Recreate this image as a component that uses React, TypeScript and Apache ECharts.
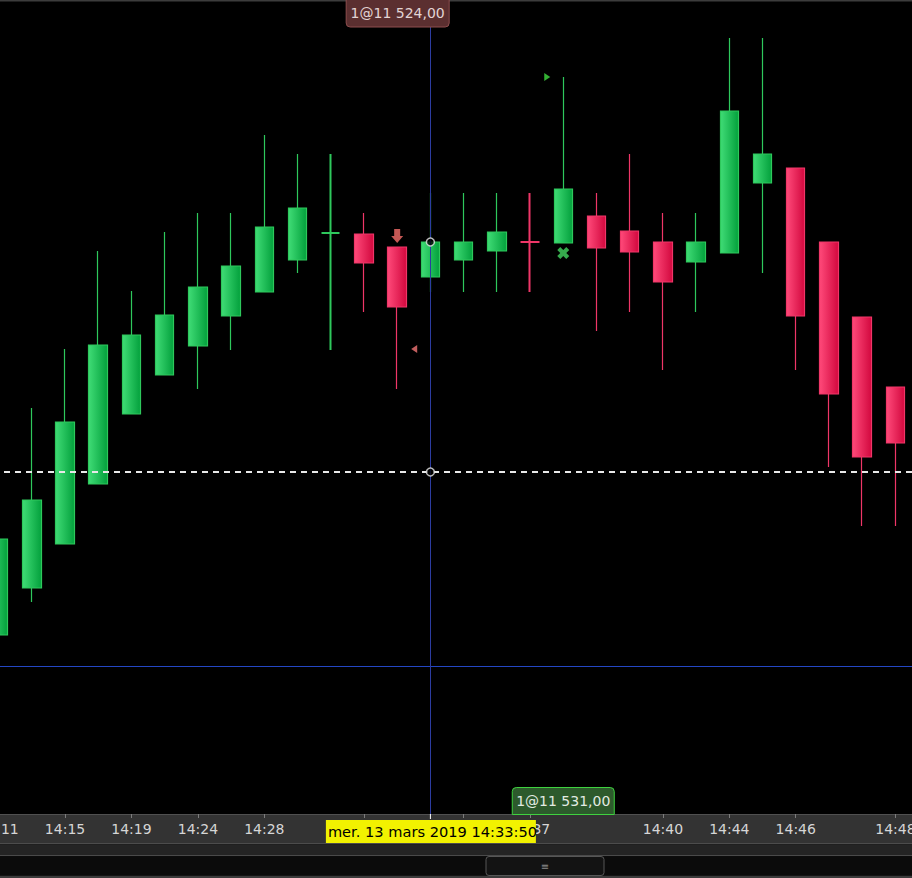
import React, { useEffect, useRef } from "react";
import * as echarts from "echarts";

// Bar times (category axis)
const times = [
  "14:11", "14:13", "14:15", "14:17", "14:19", "14:22", "14:24", "14:26", "14:28", "14:29",
  "14:30", "14:31", "14:32", "14:33", "14:35", "14:36", "14:37", "14:38", "14:38", "14:39",
  "14:40", "14:42", "14:44", "14:45", "14:46", "14:47", "14:47", "14:48",
];
// indices that carry a tick, and those whose label is drawn
const tickIdx = [0, 2, 4, 6, 8, 11, 14, 16, 20, 22, 24, 27];
const labelIdx = [0, 2, 4, 6, 8, 16, 20, 22, 24, 27];

const opens = [
  11483.25, 11495, 11506, 11521, 11538.5, 11548.25, 11555.5, 11563, 11569, 11577,
  11583.75, 11583.5, 11580.25, 11572.75, 11577, 11579.25, 11581.5, 11581.25, 11588, 11584.25,
  11581.5, 11576.5, 11578.75, 11596.25, 11600, 11581.5, 11562.75, 11545.25,
];
const closes = [
  11507.25, 11517, 11536.5, 11555.75, 11558.25, 11563.25, 11570.25, 11575.5, 11585.25, 11590,
  11583.75, 11576.25, 11565.25, 11581.5, 11581.5, 11584, 11581.5, 11594.75, 11580, 11579,
  11571.5, 11581.5, 11614.25, 11603.5, 11563, 11543.5, 11527.75, 11531.25,
];
const lows = [
  11483.25, 11491.5, 11506, 11521, 11538.5, 11548.25, 11544.75, 11554.5, 11569, 11573.75,
  11554.5, 11564, 11544.75, 11569, 11569, 11569, 11569, 11581.25, 11559.25, 11564,
  11549.5, 11564, 11578.75, 11573.75, 11549.5, 11525.25, 11510.5, 11510.5,
];
const highs = [
  11525.5, 11540, 11554.75, 11579.25, 11569.25, 11584, 11588.75, 11588.75, 11608.25, 11603.5,
  11603.5, 11588.75, 11580.25, 11593.75, 11593.75, 11593.75, 11593.75, 11622.75, 11593.75, 11603.5,
  11588.75, 11588.75, 11632.5, 11632.5, 11600, 11581.5, 11562.75, 11545.25,
];
// doji bars and their colour (1 = up/green, -1 = down/red)
const dojiIdx = [10, 16];
const dojiSign = [1, -1];

// levels
const dashedLevel = 11524;
const blueLevel = 11475.5;
const crossIdx = 13;
const crossPrice = 11581.5;

// order markers: [index, price]
const sellArrow = [12, 11583];
const redTriangle = [12, 11554.75];
const greenTriangle = [17, 11622.75];
const greenCross = [17, 11578.75];

const topLabelIdx = 12;
const topLabelText = "1@11 524,00";
const bottomLabelIdx = 17;
const bottomLabelText = "1@11 531,00";
const dateText = "mer. 13 mars 2019 14:33:50";

const yMin = 11438.5;
const yMax = 11642;

const FONT = "DejaVu Sans";

export default function App() {
  const ref = useRef<HTMLDivElement>(null);
  useEffect(() => {
    const chart = echarts.init(ref.current!, null, { renderer: "svg" });
    const greenFill = new echarts.graphic.LinearGradient(0, 0, 1, 0, [
      { offset: 0, color: "#40dc76" },
      { offset: 1, color: "#03a03c" },
    ]);
    const redFill = new echarts.graphic.LinearGradient(0, 0, 1, 0, [
      { offset: 0, color: "#ff4a7a" },
      { offset: 1, color: "#d2083e" },
    ]);
    const greenBorder = "#2ec85c";
    const redBorder = "#ef3668";

    const data = opens.map((o, i) => {
      const di = dojiIdx.indexOf(i);
      const v = [o, closes[i], lows[i], highs[i]];
      if (di < 0) return v;
      const up = dojiSign[di] > 0;
      const f = up ? greenFill : redFill;
      const b = up ? greenBorder : redBorder;
      return {
        value: v,
        itemStyle: { color: f, color0: f, borderColor: b, borderColor0: b, borderColorDoji: b, borderWidth: 2 },
      };
    });

    chart.setOption({
      animation: false,
      backgroundColor: "#000",
      textStyle: { fontFamily: FONT },
      grid: { left: -18, right: 0, top: 0, bottom: 64, containLabel: false, outerBoundsMode: "none" },
      xAxis: {
        type: "category",
        data: times,
        boundaryGap: true,
        z: 5,
        axisLine: { show: true, lineStyle: { color: "#505050", width: 1 } },
        axisTick: {
          show: true,
          alignWithLabel: true,
          interval: (i: number) => tickIdx.indexOf(i) >= 0,
          length: 4,
          lineStyle: { color: "#7c7c7c" },
        },
        axisLabel: {
          interval: (i: number) => labelIdx.indexOf(i) >= 0,
          color: "#d6d6d6",
          fontSize: 14,
          fontFamily: FONT,
          margin: 8,
        },
        splitLine: { show: false },
      },
      yAxis: {
        type: "value",
        min: yMin,
        max: yMax,
        show: false,
        splitLine: { show: false },
      },
      series: [
        {
          type: "candlestick",
          data,
          barWidth: 19,
          z: 2,
          itemStyle: {
            color: greenFill,
            color0: redFill,
            borderColor: greenBorder,
            borderColor0: redBorder,
            borderWidth: 1.2,
          },
        },
        {
          type: "scatter",
          z: 4,
          silent: true,
          data: [
            {
              value: sellArrow,
              symbol: "path://M3 0 H9 V7 H12 L6 14 L0 7 H3 Z",
              symbolSize: [12, 14],
              itemStyle: { color: "#f66e6a" },
            },
            {
              value: redTriangle,
              symbol: "path://M6 0 L6 8 L0 4 Z",
              symbolSize: [6, 8],
              symbolOffset: [17, 0],
              itemStyle: { color: "#f27676" },
            },
            {
              value: greenTriangle,
              symbol: "path://M0 0 L6 4 L0 8 Z",
              symbolSize: [6, 8],
              symbolOffset: [-16, 0],
              itemStyle: { color: "#40dc40" },
            },
            {
              value: greenCross,
              symbol:
                "path://M3 0 L6 3 L9 0 L12 3 L9 6 L12 9 L9 12 L6 9 L3 12 L0 9 L3 6 L0 3 Z",
              symbolSize: 12,
              itemStyle: { color: "#44d460" },
            },
          ],
          markLine: {
            silent: true,
            symbol: ["none", "none"],
            label: { show: false },
            data: [
              { yAxis: blueLevel, lineStyle: { color: "#2447c4", width: 1, type: "solid" } },
              { xAxis: crossIdx, lineStyle: { color: "#2c3ca0", width: 1, type: "solid" } },
              { yAxis: dashedLevel, lineStyle: { color: "#e8e8e8", width: 2, type: [6, 5] } },
            ],
          },
        },
        {
          type: "scatter",
          z: 6,
          silent: true,
          symbol: "circle",
          symbolSize: 8,
          itemStyle: { color: "#000", borderColor: "#e6e6e6", borderWidth: 1.5 },
          data: [
            [crossIdx, crossPrice],
            [crossIdx, dashedLevel],
          ],
        },
      ],
    });

    const px = (i: number, v: number) => chart.convertToPixel({ gridIndex: 0 }, [i, v]) as number[];
    const xTop = px(topLabelIdx, dashedLevel)[0];
    const xBot = px(bottomLabelIdx, dashedLevel)[0];
    const xCross = px(crossIdx, dashedLevel)[0];
    const axisY = px(crossIdx, yMin)[1];

    chart.setOption({
      graphic: {
        elements: [
          { type: "rect", z: 1, shape: { x: 0, y: 0, width: 912, height: 1.5 }, style: { fill: "#3c3c3c" } },
          { type: "rect", z: 1, shape: { x: 0, y: axisY, width: 912, height: 29.5 }, style: { fill: "#333333" } },
          { type: "rect", z: 1, shape: { x: 0, y: axisY + 29, width: 912, height: 1.2 }, style: { fill: "#4c4c4c" } },
          { type: "rect", z: 1, shape: { x: 0, y: axisY + 30.2, width: 912, height: 10.8 }, style: { fill: "#242424" } },
          { type: "rect", z: 1, shape: { x: 0, y: axisY + 41, width: 912, height: 1.2 }, style: { fill: "#4a4a4a" } },
          { type: "rect", z: 1, shape: { x: 0, y: axisY + 42.2, width: 912, height: 19.6 }, style: { fill: "#0b0b0b" } },
          { type: "rect", z: 1, shape: { x: 0, y: axisY + 61.8, width: 912, height: 2.2 }, style: { fill: "#3c3c3c" } },
          {
            type: "rect",
            z: 8,
            shape: { x: 486, y: axisY + 42.5, width: 118, height: 19, r: 3 },
            style: { fill: "#131313", stroke: "#575757", lineWidth: 1 },
          },
          {
            type: "text",
            z: 9,
            x: 545,
            y: axisY + 52,
            style: { text: "≡", fill: "#8a8a8a", fontSize: 10, fontFamily: FONT, align: "center", verticalAlign: "middle" },
          },
          // crosshair tick on the time axis
          {
            type: "line",
            z: 9,
            shape: { x1: xCross, y1: axisY, x2: xCross, y2: axisY + 5 },
            style: { stroke: "#ffffff", lineWidth: 1 },
          },
          // date box
          {
            type: "rect",
            z: 10,
            shape: { x: xCross - 104.5, y: axisY + 6, width: 210, height: 23 },
            style: { fill: "#f2f200" },
          },
          {
            type: "text",
            z: 11,
            x: xCross - 102.5,
            y: axisY + 17.5,
            style: { text: dateText, fill: "#000", fontSize: 14.6, fontFamily: FONT, verticalAlign: "middle" },
          },
          // top order label
          {
            type: "rect",
            z: 10,
            shape: { x: xTop - 51, y: -4, width: 103, height: 31, r: [0, 0, 4, 4] },
            style: { fill: "#5b2f30", stroke: "#8e4e4e", lineWidth: 1 },
          },
          {
            type: "text",
            z: 11,
            x: xTop + 0.5,
            y: 12.5,
            style: { text: topLabelText, fill: "#e2d4d4", fontSize: 14, fontFamily: FONT, align: "center", verticalAlign: "middle" },
          },
          // bottom order label
          {
            type: "rect",
            z: 10,
            shape: { x: xBot - 51, y: axisY - 26.5, width: 102, height: 27, r: [4, 4, 0, 0] },
            style: { fill: "#2d5a2c", stroke: "#3fd23f", lineWidth: 1 },
          },
          {
            type: "text",
            z: 11,
            x: xBot,
            y: axisY - 13,
            style: { text: bottomLabelText, fill: "#e2ebe2", fontSize: 14, fontFamily: FONT, align: "center", verticalAlign: "middle" },
          },
        ],
      },
    });

    return () => chart.dispose();
  }, []);

  return (
    <div
      ref={ref}
      style={{ position: "fixed", left: 0, top: 0, width: 912, height: 878, background: "#000" }}
    />
  );
}
